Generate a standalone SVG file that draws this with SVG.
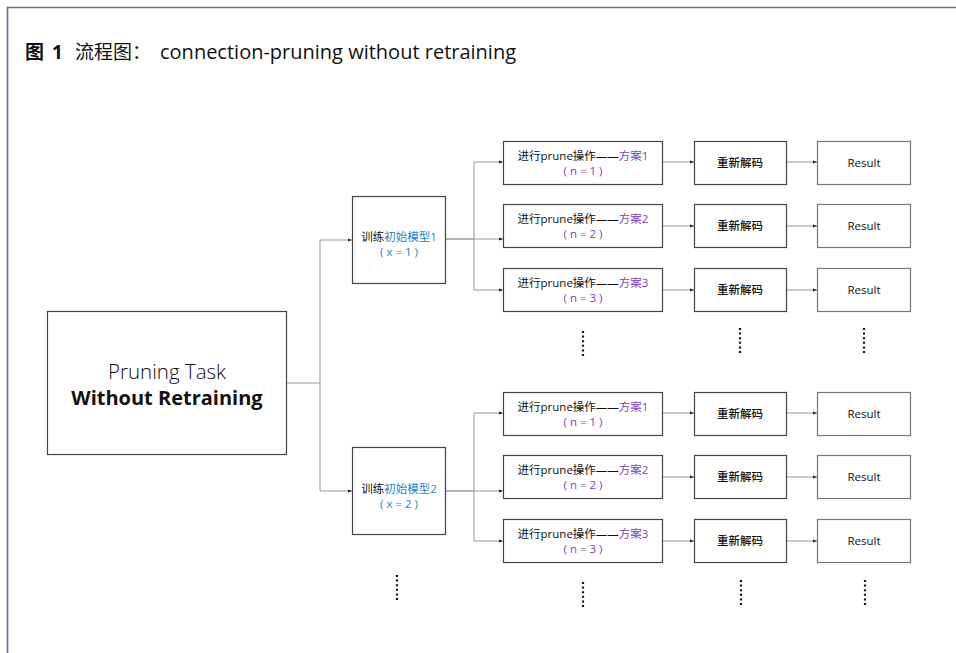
<svg xmlns="http://www.w3.org/2000/svg" width="956" height="653" viewBox="0 0 956 653">
<defs>
<marker id="ah" markerWidth="5" markerHeight="5" refX="4.5" refY="2.5" orient="auto" markerUnits="userSpaceOnUse">
<path d="M0,0.8 L4.5,2.5 L0,4.2 Z" fill="#222"/>
</marker>
</defs>
<style>
.box{fill:#fff;stroke:#444;stroke-width:1.2}
.rbox{fill:#fff;stroke:#777;stroke-width:1.2}
.ln{fill:none;stroke:#999;stroke-width:1}
.ar{fill:none;stroke:#999;stroke-width:1;marker-end:url(#ah)}
.t{font-family:"Open Sans","Noto Sans CJK SC",sans-serif;fill:#111;text-anchor:middle}
.s{font-size:11.5px}
.m{font-size:11.5px}
.b{font-weight:500}
.blue{fill:#1f7fd0}
.pur{fill:#7d3fb8}
.dots{fill:none;stroke:#111;stroke-width:2.2;stroke-dasharray:2 2.6}
</style>
<rect width="956" height="653" fill="#fff"/>
<path d="M7.5,653 V7.5 H956" fill="none" stroke="#5b7190" stroke-width="1.6"/>
<text y="59" font-family="'Open Sans','Noto Sans CJK SC',sans-serif" font-size="19" fill="#111"><tspan x="25" font-family="'Noto Sans CJK SC',sans-serif" font-weight="bold">图</tspan><tspan x="52" font-weight="bold">1</tspan><tspan x="75" font-family="'Noto Sans CJK SC',sans-serif">流程图：</tspan><tspan x="160" font-size="20">connection-pruning without retraining</tspan></text>

<g id="connectors">
<path class="ln" d="M286,383 H320 M320,240 V491"/>
<path class="ar" d="M320,240 H352"/>
<path class="ar" d="M320,491 H352"/>
<path class="ln" d="M445,239 H474 M474,162 V290"/>
<path class="ar" d="M474,162 H503"/>
<path class="ar" d="M445,239 H503"/>
<path class="ar" d="M474,290 H503"/>
<path class="ln" d="M445,491 H474 M474,413 V541"/>
<path class="ar" d="M474,413 H503"/>
<path class="ar" d="M445,491 H503"/>
<path class="ar" d="M474,541 H503"/>
<path class="ar" d="M662,162 H694"/>
<path class="ar" d="M662,226 H694"/>
<path class="ar" d="M662,290 H694"/>
<path class="ar" d="M662,413 H694"/>
<path class="ar" d="M662,477 H694"/>
<path class="ar" d="M662,541 H694"/>
<path class="ar" d="M786,162 H817"/>
<path class="ar" d="M786,226 H817"/>
<path class="ar" d="M786,290 H817"/>
<path class="ar" d="M786,413 H817"/>
<path class="ar" d="M786,477 H817"/>
<path class="ar" d="M786,541 H817"/>
</g>

<g id="main">
<rect class="box" x="47.5" y="311.5" width="239" height="143"/>
<text class="t" x="167" y="379" font-size="20.5" font-weight="300" fill="#222">Pruning Task</text>
<text class="t" x="167" y="405" font-size="20" font-weight="bold">Without Retraining</text>
</g>

<g id="train1">
<rect class="box" x="352.5" y="196.5" width="93" height="87"/>
<text class="t m" x="399" y="241">训练<tspan class="blue">初始模型1</tspan></text>
<text class="t m blue" x="399" y="256">( x = 1 )</text>
</g>
<g id="train2">
<rect class="box" x="352.5" y="447.5" width="93" height="87"/>
<text class="t m" x="399" y="493">训练<tspan class="blue">初始模型2</tspan></text>
<text class="t m blue" x="399" y="508">( x = 2 )</text>
</g>

<g id="prune1a">
<rect class="box" x="503.5" y="141.5" width="159" height="43"/>
<text class="t s" x="583" y="160">进行prune操作——<tspan class="pur">方案1</tspan></text>
<text class="t s pur" x="583" y="175">( n = 1 )</text>
</g>
<g id="prune2a">
<rect class="box" x="503.5" y="204.5" width="159" height="43"/>
<text class="t s" x="583" y="223">进行prune操作——<tspan class="pur">方案2</tspan></text>
<text class="t s pur" x="583" y="238">( n = 2 )</text>
</g>
<g id="prune3a">
<rect class="box" x="503.5" y="268.5" width="159" height="43"/>
<text class="t s" x="583" y="287">进行prune操作——<tspan class="pur">方案3</tspan></text>
<text class="t s pur" x="583" y="302">( n = 3 )</text>
</g>
<g id="prune1b">
<rect class="box" x="503.5" y="392.5" width="159" height="43"/>
<text class="t s" x="583" y="411">进行prune操作——<tspan class="pur">方案1</tspan></text>
<text class="t s pur" x="583" y="426">( n = 1 )</text>
</g>
<g id="prune2b">
<rect class="box" x="503.5" y="455.5" width="159" height="43"/>
<text class="t s" x="583" y="474">进行prune操作——<tspan class="pur">方案2</tspan></text>
<text class="t s pur" x="583" y="489">( n = 2 )</text>
</g>
<g id="prune3b">
<rect class="box" x="503.5" y="519.5" width="159" height="43"/>
<text class="t s" x="583" y="538">进行prune操作——<tspan class="pur">方案3</tspan></text>
<text class="t s pur" x="583" y="553">( n = 3 )</text>
</g>

<g id="decode1a"><rect class="box" x="694.5" y="141.5" width="92" height="43"/><text class="t m b" x="740" y="167">重新解码</text></g>
<g id="decode2a"><rect class="box" x="694.5" y="204.5" width="92" height="43"/><text class="t m b" x="740" y="230">重新解码</text></g>
<g id="decode3a"><rect class="box" x="694.5" y="268.5" width="92" height="43"/><text class="t m b" x="740" y="294">重新解码</text></g>
<g id="decode1b"><rect class="box" x="694.5" y="392.5" width="92" height="43"/><text class="t m b" x="740" y="418">重新解码</text></g>
<g id="decode2b"><rect class="box" x="694.5" y="455.5" width="92" height="43"/><text class="t m b" x="740" y="481">重新解码</text></g>
<g id="decode3b"><rect class="box" x="694.5" y="519.5" width="92" height="43"/><text class="t m b" x="740" y="545">重新解码</text></g>

<g id="result1a"><rect class="rbox" x="817.5" y="141.5" width="93" height="43"/><text class="t s b" x="864" y="167">Result</text></g>
<g id="result2a"><rect class="rbox" x="817.5" y="204.5" width="93" height="43"/><text class="t s b" x="864" y="230">Result</text></g>
<g id="result3a"><rect class="rbox" x="817.5" y="268.5" width="93" height="43"/><text class="t s b" x="864" y="294">Result</text></g>
<g id="result1b"><rect class="rbox" x="817.5" y="392.5" width="93" height="43"/><text class="t s b" x="864" y="418">Result</text></g>
<g id="result2b"><rect class="rbox" x="817.5" y="455.5" width="93" height="43"/><text class="t s b" x="864" y="481">Result</text></g>
<g id="result3b"><rect class="rbox" x="817.5" y="519.5" width="93" height="43"/><text class="t s b" x="864" y="545">Result</text></g>

<g id="ellipses">
<path class="dots" d="M583,331 V358"/>
<path class="dots" d="M740,328 V355"/>
<path class="dots" d="M864,328 V355"/>
<path class="dots" d="M397,575 V602"/>
<path class="dots" d="M583,582 V609"/>
<path class="dots" d="M741,580 V607"/>
<path class="dots" d="M865,580 V607"/>
</g>
</svg>
